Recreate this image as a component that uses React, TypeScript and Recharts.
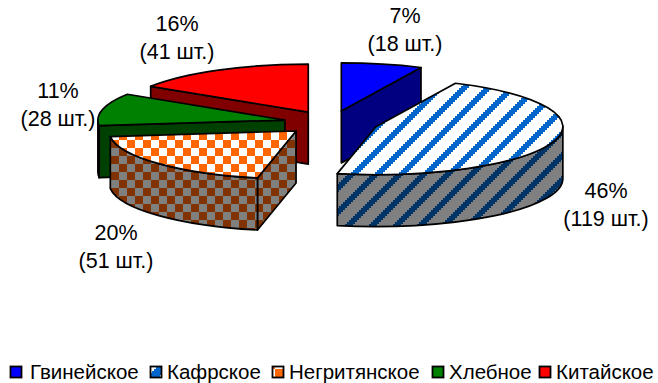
import { Legend, Pie, PieChart } from "recharts";

const WIDTH = 658;
const HEIGHT = 383;

const categories = ["Гвинейское", "Кафрское", "Негритянское", "Хлебное", "Китайское"];
const counts = [18, 119, 51, 28, 41];
// back-to-front: the pie runs counter-clockwise from here so later slices cover earlier ones
const paintOrder = [0, 4, 3, 2, 1];

const total = counts.reduce((sum, n) => sum + n, 0);
const rows = paintOrder.map((i) => ({ name: categories[i], value: counts[i] }));

// the first slice ends at 12 o'clock
const START_ANGLE = 90 - (counts[0] / total) * 360;

const CX = 331;
const CY = 122.8;
const RX = 187;
const RY = 48;
const DEPTH = 52;
const EXPLODE = 0.253;
const OUTLINE = 1.7;

const sliceStyles: Record<string, { top: string; side: string }> = {
  Гвинейское: { top: "#0000ff", side: "#000080" },
  Кафрское: { top: "url(#kafTop)", side: "url(#kafSide)" },
  Негритянское: { top: "url(#negTop)", side: "url(#negSide)" },
  Хлебное: { top: "#008000", side: "#004000" },
  Китайское: { top: "#ff0000", side: "#800000" },
};

const legendStyles: Record<string, { fill: string; left: number; textLeft: number }> = {
  Гвинейское: { fill: "#0000ff", left: 9, textLeft: 30 },
  Кафрское: { fill: "url(#kafSwatch)", left: 149, textLeft: 167 },
  Негритянское: { fill: "url(#negSwatch)", left: 271, textLeft: 289 },
  Хлебное: { fill: "#008000", left: 431, textLeft: 449 },
  Китайское: { fill: "#ff0000", left: 538, textLeft: 556 },
};

// centre and first baseline of each two-line label
const labelSpots: Record<string, { x: number; y: number }> = {
  Гвинейское: { x: 405, y: 23 },
  Кафрское: { x: 606, y: 198 },
  Негритянское: { x: 116, y: 240 },
  Хлебное: { x: 58, y: 98 },
  Китайское: { x: 177, y: 31 },
};

const toPoint = (ox: number, oy: number, deg: number) => {
  const rad = (deg * Math.PI) / 180;
  return { x: ox + RX * Math.cos(rad), y: oy - RY * Math.sin(rad) };
};

function Slice3D(props: any) {
  const { startAngle, endAngle, midAngle, payload } = props;
  const style = sliceStyles[payload.name];
  const mid = (midAngle * Math.PI) / 180;
  const ox = props.cx + EXPLODE * RX * Math.cos(mid);
  const oy = props.cy - EXPLODE * RY * Math.sin(mid);
  const from = toPoint(ox, oy, startAngle);
  const to = toPoint(ox, oy, endAngle);
  const middle = toPoint(ox, oy, midAngle);
  const large = endAngle - startAngle > 180 ? 1 : 0;

  const topPath = `M${ox},${oy} L${from.x},${from.y} A${RX},${RY} 0 ${large} 0 ${to.x},${to.y} Z`;

  // a cut face only shows when the slice lies on the far side of its edge
  const cutFace = (edge: { x: number; y: number }) => {
    const dx = edge.x - ox;
    const dy = edge.y - oy;
    const side = dx * (middle.y - oy) - dy * (middle.x - ox);
    if (Math.abs(dx) < 0.5 || side * dx >= 0) return null;
    return (
      <path
        d={`M${ox},${oy} L${edge.x},${edge.y} L${edge.x},${edge.y + DEPTH} L${ox},${oy + DEPTH} Z`}
        fill={style.side}
        stroke="#000"
        strokeWidth={OUTLINE}
        strokeLinejoin="round"
      />
    );
  };

  // outer wall, front half of the ellipse only
  const wallFrom = Math.max(startAngle, 180);
  const wallTo = Math.min(endAngle, 360);
  let wall = null;
  if (wallTo > wallFrom) {
    const a = toPoint(ox, oy, wallFrom);
    const b = toPoint(ox, oy, wallTo);
    wall = (
      <path
        d={`M${a.x},${a.y} A${RX},${RY} 0 0 0 ${b.x},${b.y} L${b.x},${b.y + DEPTH} A${RX},${RY} 0 0 1 ${a.x},${a.y + DEPTH} Z`}
        fill={style.side}
        stroke="#000"
        strokeWidth={OUTLINE}
        strokeLinejoin="round"
      />
    );
  }

  return (
    <g>
      {cutFace(from)}
      {cutFace(to)}
      {wall}
      <path d={topPath} fill={style.top} stroke="#000" strokeWidth={OUTLINE} strokeLinejoin="round" />
    </g>
  );
}

function SliceLabel(props: any) {
  const spot = labelSpots[props.payload?.name ?? props.name];
  const value = props.value;
  return (
    <text textAnchor="middle" fontFamily="Liberation Sans" fontSize={21.5} fill="#000">
      <tspan x={spot.x} y={spot.y}>{`${Math.round((value / total) * 100)}%`}</tspan>
      <tspan x={spot.x} y={spot.y + 28}>{`(${value} шт.)`}</tspan>
    </text>
  );
}

function LegendRow() {
  return (
    <div style={{ position: "relative", width: WIDTH, height: 24 }}>
      {categories.map((name) => (
        <div key={name}>
          <svg width={14} height={14} style={{ position: "absolute", left: legendStyles[name].left, top: 5 }}>
            <rect x={1.5} y={1.5} width={11} height={11} fill={legendStyles[name].fill} stroke="#000" strokeWidth={1.8} />
          </svg>
          <span
            style={{
              position: "absolute",
              left: legendStyles[name].textLeft,
              top: 0,
              fontFamily: "Liberation Sans",
              fontSize: 20.5,
              lineHeight: "24px",
              whiteSpace: "nowrap",
            }}
          >
            {name}
          </span>
        </div>
      ))}
    </div>
  );
}

// 24px tile, stepped diagonal stripe like a printer hatch
function StripePattern({ id, bg, ink, x, band }: { id: string; bg: string; ink: string; x: number; band: number }) {
  const steps = [0, 1, 2, 3, 4, 5, 6, 7, 8, 9, 10, 11];
  return (
    <pattern id={id} patternUnits="userSpaceOnUse" x={x} width={24} height={24} shapeRendering="crispEdges">
      <rect width={24} height={24} fill={bg} />
      {steps.map((i) => (
        <g key={i} fill={ink}>
          <rect x={i * 2} y={22 - i * 2} width={band} height={2} />
          <rect x={i * 2 - 24} y={22 - i * 2} width={band} height={2} />
        </g>
      ))}
    </pattern>
  );
}

function CheckPattern({ id, a, b, x, y }: { id: string; a: string; b: string; x: number; y: number }) {
  return (
    <pattern id={id} patternUnits="userSpaceOnUse" x={x} y={y} width={16} height={16} shapeRendering="crispEdges">
      <rect width={16} height={16} fill={a} />
      <rect width={8} height={8} fill={b} />
      <rect x={8} y={8} width={8} height={8} fill={b} />
    </pattern>
  );
}

export default function App() {
  return (
    <div style={{ position: "absolute", left: 0, top: 0, width: WIDTH, height: HEIGHT, background: "#fff" }}>
      <PieChart width={WIDTH} height={HEIGHT} margin={{ top: 0, right: 0, bottom: 0, left: 0 }}>
        <defs>
          <StripePattern id="kafTop" bg="#ffffff" ink="#0066cc" x={21} band={8} />
          <StripePattern id="kafSide" bg="#808080" ink="#003366" x={19} band={8} />
          <StripePattern id="kafSwatch" bg="#ffffff" ink="#0066cc" x={-13} band={12} />
          <CheckPattern id="negTop" a="#ffffff" b="#ff6600" x={7} y={4} />
          <CheckPattern id="negSide" a="#808080" b="#803300" x={7} y={4} />
          <CheckPattern id="negSwatch" a="#ffffff" b="#ff6600" x={4} y={4} />
        </defs>
        <Pie
          data={rows}
          dataKey="value"
          nameKey="name"
          cx={CX}
          cy={CY}
          outerRadius={RX}
          startAngle={START_ANGLE}
          endAngle={START_ANGLE + 360}
          shape={Slice3D}
          label={SliceLabel}
          labelLine={false}
          isAnimationActive={false}
        />
        <Legend content={LegendRow} wrapperStyle={{ left: 0, top: 360, width: WIDTH }} />
      </PieChart>
    </div>
  );
}
